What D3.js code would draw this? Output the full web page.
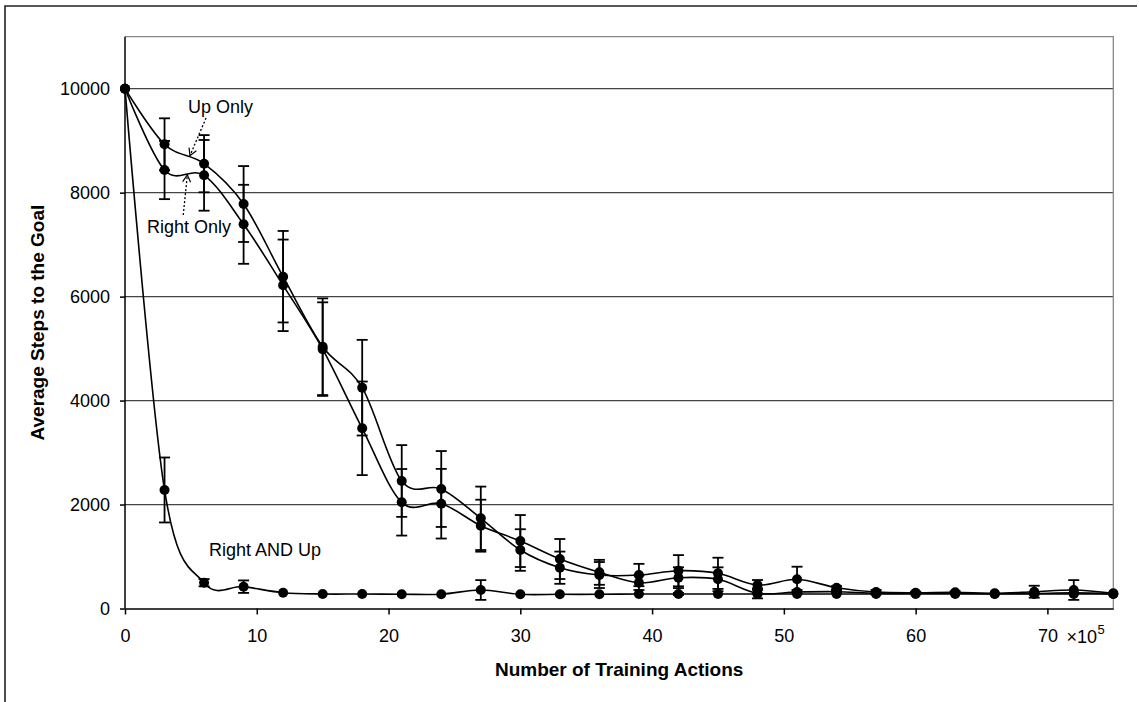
<!DOCTYPE html>
<html>
<head>
<meta charset="utf-8">
<script src="https://cdn.jsdelivr.net/npm/d3@7"></script>
<style>
  body { margin: 0; background: #fff; }
  svg { display: block; }
  text { font-family: "Liberation Sans", Arial, sans-serif; fill: #000; }
</style>
</head>
<body>
<svg id="chart" width="1139" height="702"></svg>
<script>
// Training actions (×10^5) at which each run was measured
const trainingActions = [0, 3, 6, 9, 12, 15, 18, 21, 24, 27, 30, 33, 36, 39, 42, 45, 48, 51, 54, 57, 60, 63, 66, 69, 72, 75];

// Average steps to the goal, with standard-error half-widths
const upOnly      = [10000, 8930, 8557, 7781, 6383, 5036, 4248, 2453, 2299, 1735, 1125, 785, 644, 644, 727, 677, 452, 562, 400, 317, 304, 311, 292, 323, 356, 292];
const upOnlyErr   = [0, 500, 550, 730, 880, 930, 920, 690, 730, 610, 400, 310, 250, 215, 300, 300, 96, 242, 30, 40, 20, 20, 0, 115, 190, 0];
const rightOnly   = [10000, 8435, 8333, 7391, 6217, 4990, 3466, 2043, 2016, 1593, 1298, 952, 696, 496, 593, 562, 292, 317, 323, 292, 292, 292, 285, 290, 300, 280];
const rightOnlyErr= [0, 560, 680, 760, 880, 900, 900, 640, 670, 500, 500, 385, 240, 140, 200, 230, 97, 40, 20, 20, 20, 0, 0, 20, 0, 0];
const rightAndUp  = [10000, 2280, 496, 420, 304, 279, 279, 275, 275, 356, 273, 273, 273, 279, 279, 279, 279, 279, 279, 279, 279, 279, 279, 279, 279, 279];
const rightAndUpErr = [0, 625, 70, 120, 0, 0, 0, 0, 0, 190, 0, 0, 0, 0, 20, 0, 0, 0, 0, 0, 0, 0, 0, 0, 0, 0];

const xTicks = [0, 10, 20, 30, 40, 50, 60, 70];
const yTicks = [0, 2000, 4000, 6000, 8000, 10000];
const yGrid  = [2000, 4000, 6000, 8000, 10000];

// Callout labels, anchored in data units
const labelNames = ["Up Only", "Right Only", "Right AND Up"];
const labelAt    = [[4.78, 9526], [1.67, 7229], [6.37, 1016]];
const arrowFrom  = [[6.15, 9436], [4.42, 7570], null];
const arrowTo    = [[4.93, 8711], [4.73, 8340], null];

const svg = d3.select("#chart");
const plotLeft = 125, plotRight = 1113.3, plotTop = 36.7, plotBottom = 608.5;

const x = d3.scaleLinear().domain([0, 75]).range([plotLeft, plotRight]);
const y = d3.scaleLinear().domain([0, 11000]).range([plotBottom, plotTop]);

// outer frame (top and left edges)
svg.append("path")
  .attr("d", `M5,702 L5,6 L1137,6`)
  .attr("fill", "none").attr("stroke", "#222").attr("stroke-width", 1.6);

// horizontal gridlines
svg.append("g").selectAll("line").data(yGrid).join("line")
  .attr("x1", plotLeft).attr("x2", plotRight)
  .attr("y1", d => y(d)).attr("y2", d => y(d))
  .attr("stroke", "#444").attr("stroke-width", 1.3);

// plot-area border on top and right
svg.append("path")
  .attr("d", `M${plotLeft},${y(11000)} L${plotRight},${y(11000)} L${plotRight},${plotBottom}`)
  .attr("fill", "none").attr("stroke", "#888").attr("stroke-width", 1.3);

const series = [
  { values: upOnly, err: upOnlyErr },
  { values: rightOnly, err: rightOnlyErr },
  { values: rightAndUp, err: rightAndUpErr }
];

const line = d3.line()
  .x((d, i) => x(trainingActions[i]))
  .y(d => y(d))
  .curve(d3.curveCardinal.tension(0));

// error bars
series.forEach(s => {
  const pts = trainingActions.map((t, i) => ({ t, v: s.values[i], e: s.err[i] })).filter(p => p.e > 0);
  const g = svg.append("g").attr("stroke", "#000").attr("stroke-width", 1.8);
  g.selectAll("line.v").data(pts).join("line").attr("class", "v")
    .attr("x1", p => x(p.t)).attr("x2", p => x(p.t))
    .attr("y1", p => y(p.v - p.e)).attr("y2", p => y(p.v + p.e));
  g.selectAll("line.hi").data(pts).join("line").attr("class", "hi")
    .attr("x1", p => x(p.t) - 5.5).attr("x2", p => x(p.t) + 5.5)
    .attr("y1", p => y(p.v + p.e)).attr("y2", p => y(p.v + p.e));
  g.selectAll("line.lo").data(pts).join("line").attr("class", "lo")
    .attr("x1", p => x(p.t) - 5.5).attr("x2", p => x(p.t) + 5.5)
    .attr("y1", p => y(p.v - p.e)).attr("y2", p => y(p.v - p.e));
});

// smoothed lines
series.forEach(s => {
  svg.append("path").datum(s.values)
    .attr("d", line)
    .attr("fill", "none").attr("stroke", "#000").attr("stroke-width", 1.6);
});

// markers
series.forEach(s => {
  svg.append("g").selectAll("circle").data(s.values).join("circle")
    .attr("cx", (d, i) => x(trainingActions[i]))
    .attr("cy", d => y(d))
    .attr("r", 5).attr("fill", "#000");
});

// axes
const xAxis = d3.axisBottom(x).tickValues(xTicks).tickFormat(d3.format("d"))
  .tickSize(6).tickPadding(15).tickSizeOuter(0);
const gx = svg.append("g").attr("transform", `translate(0,${plotBottom})`).call(xAxis);
gx.select(".domain").attr("stroke", "#000").attr("stroke-width", 1.5);
gx.selectAll(".tick line").attr("stroke", "#000").attr("stroke-width", 1.5);
gx.selectAll(".tick text").style("font-size", "18px").attr("fill", "#000")
  .style("font-family", "'Liberation Sans', Arial, sans-serif");

const yAxis = d3.axisLeft(y).tickValues(yTicks).tickFormat(d3.format("d"))
  .tickSize(5).tickPadding(10).tickSizeOuter(0);
const gy = svg.append("g").attr("transform", `translate(${plotLeft},0)`).call(yAxis);
gy.select(".domain").attr("d", `M0,${plotBottom}V${plotTop}`).attr("stroke", "#000").attr("stroke-width", 1.5);
gy.selectAll(".tick line").attr("stroke", "#000").attr("stroke-width", 1.5);
gy.selectAll(".tick text").style("font-size", "18px").attr("fill", "#000")
  .style("font-family", "'Liberation Sans', Arial, sans-serif");

// scale multiplier next to the last x tick
svg.append("text").attr("x", x(70) + 19).attr("y", plotBottom + 34)
  .style("font-size", "18px").text("×10");
svg.append("text").attr("x", x(70) + 50).attr("y", plotBottom + 25)
  .style("font-size", "13px").text("5");

// axis titles
svg.append("text")
  .attr("x", (plotLeft + plotRight) / 2).attr("y", plotBottom + 67)
  .attr("text-anchor", "middle")
  .style("font-size", "19px").style("font-weight", "bold")
  .text("Number of Training Actions");

svg.append("text")
  .attr("transform", `translate(44,${(plotTop + plotBottom) / 2}) rotate(-90)`)
  .attr("text-anchor", "middle")
  .style("font-size", "19px").style("font-weight", "bold")
  .text("Average Steps to the Goal");

// callouts
const defs = svg.append("defs");
defs.append("marker")
  .attr("id", "openArrow")
  .attr("viewBox", "-10 -6 12 12")
  .attr("refX", 0).attr("refY", 0)
  .attr("markerWidth", 12).attr("markerHeight", 12)
  .attr("markerUnits", "userSpaceOnUse")
  .attr("orient", "auto")
  .append("path")
  .attr("d", "M-7,-4 L0,0 L-7,4")
  .attr("fill", "none").attr("stroke", "#000").attr("stroke-width", 1.2);

labelNames.forEach((name, i) => {
  svg.append("text")
    .attr("x", x(labelAt[i][0])).attr("y", y(labelAt[i][1]))
    .style("font-size", "18px").text(name);
  if (arrowFrom[i]) {
    svg.append("line")
      .attr("x1", x(arrowFrom[i][0])).attr("y1", y(arrowFrom[i][1]))
      .attr("x2", x(arrowTo[i][0])).attr("y2", y(arrowTo[i][1]))
      .attr("stroke", "#000").attr("stroke-width", 1.3)
      .attr("stroke-dasharray", "2,2")
      .attr("marker-end", "url(#openArrow)");
  }
});
</script>
</body>
</html>
